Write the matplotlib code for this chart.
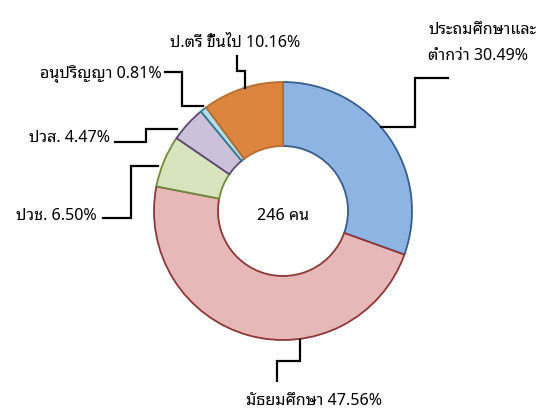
import matplotlib
matplotlib.use('Agg')
import matplotlib.pyplot as plt

# picture size in pixels (dpi 100)
W, H = 541, 410

categories = ['ประถมศึกษาและ\nต่ำกว่า', 'มัธยมศึกษา', 'ปวช.', 'ปวส.', 'อนุปริญญา', 'ป.ตรี ขึ้นไป']
percents = [30.49, 47.56, 6.50, 4.47, 0.81, 10.16]
total_people = 246

fills = ['#8eb4e3', '#e6b9b8', '#d7e4bd', '#ccc1da', '#b7dee8', '#dc853e']
edges = ['#385d8a', '#8c3836', '#71893f', '#5c4776', '#357d91', '#b66d31']

# label placement, in pixels from the top-left corner: (x, baseline y of last line, ha)
label_pos = [(428, 60, 'left'), (314, 405, 'center'), (97, 220, 'right'),
             (110, 142, 'right'), (162, 78, 'right'), (235, 47, 'center')]
# elbow leader lines, pixels from the top-left corner
leaders = [
    [(381, 128), (415, 128), (415, 79), (448, 79)],
    [(300, 341), (300, 362), (277, 362), (277, 382)],
    [(158, 167), (131, 167), (131, 219), (103, 219)],
    [(177, 130), (146, 130), (146, 143), (115, 143)],
    [(203, 107), (182, 107), (182, 73), (165, 73)],
    [(245, 89), (245, 72), (237, 72), (237, 57)],
]

plt.rcParams['font.family'] = ['Noto Sans', 'Noto Sans Thai Looped']


def flip(pts):
    # pixel coords (y down) -> data coords (y up)
    return [p[0] for p in pts], [H - p[1] for p in pts]


fig = plt.figure(figsize=(W / 100, H / 100), dpi=100)
ax = fig.add_axes([0, 0, 1, 1])

wedges, _ = ax.pie(percents, colors=fills, startangle=90, counterclock=False,
                   center=(283, H - 212), radius=129,
                   wedgeprops=dict(width=64, linewidth=1.3))
for w, e in zip(wedges, edges):
    w.set_edgecolor(e)

for cat, p, (x, y, ha), line in zip(categories, percents, label_pos, leaders):
    xs, ys = flip(line)
    ax.plot(xs, ys, color='black', lw=1.6, solid_joinstyle='miter')
    ax.text(x, H - y, f'{cat} {p:.2f}%', ha=ha, va='baseline',
            fontsize=11.6, linespacing=1.75, color='black')

ax.text(283, H - 220, f'{total_people} คน', ha='center', va='baseline',
        fontsize=11.6, color='black')

ax.set_xlim(0, W)
ax.set_ylim(0, H)
ax.set_aspect('equal')
ax.axis('off')
fig.savefig('out.png', dpi=100)
